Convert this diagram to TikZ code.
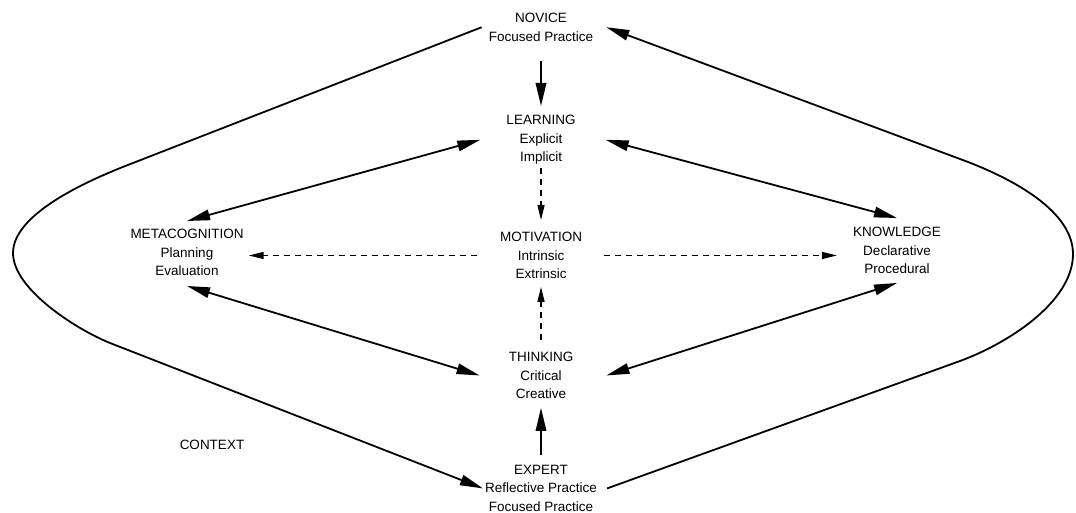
\documentclass[tikz,border=0pt]{standalone}
\usepackage{fontspec}
\setmainfont{Liberation Sans}
\usetikzlibrary{arrows.meta}
\tikzset{
  lbl/.style={align=center, inner sep=0pt, anchor=north,
              font=\fontsize{13.5}{18.5}\selectfont},
  arr/.style={line width=1.8pt, -{Triangle[length=23pt,width=10.5pt]}},
  both/.style={line width=1.8pt, {Triangle[length=23pt,width=10.5pt]}-{Triangle[length=23pt,width=10.5pt]}},
  darr/.style={line width=1.3pt, dash pattern=on 6pt off 5pt,
               -{Triangle[length=15pt,width=7pt]}},
}
\begin{document}
\begin{tikzpicture}[x=1pt,y=-1pt]%{{{
\useasboundingbox (0,0) rectangle (1076,513);
%
% Stades
\node[lbl] (novice)     at (541, 13) {NOVICE\\Focused Practice};
\node[lbl] (learning)   at (541,115) {LEARNING\\Explicit\\Implicit};
\node[lbl] (motivation) at (541,232) {MOTIVATION\\Intrinsic\\Extrinsic};
\node[lbl] (meta)       at (187,229) {METACOGNITION\\Planning\\Evaluation};
\node[lbl] (knowledge)  at (897,227) {KNOWLEDGE\\Declarative\\Procedural};
\node[lbl] (thinking)   at (541,352) {THINKING\\Critical\\Creative};
\node[lbl] (expert)     at (541,465) {EXPERT\\Reflective Practice\\Focused Practice};
\node[lbl] (context)    at (212,440) {CONTEXT};
%
% Axe central
\draw [arr]  ([yshift=-20pt]novice.south) -- ([yshift=9pt]learning.north);
\draw [darr] ([yshift=-3pt]learning.south) -- ([yshift=12pt]motivation.north);
\draw [darr] ([yshift=12pt]thinking.north) -- ([yshift=-8pt]motivation.south);
\draw [arr]  ([yshift=10pt]expert.north) -- ([yshift=-9pt]thinking.south);
%
% Motivation vers les cotes
\draw [darr] ([xshift=-23pt]motivation.west) -- ([xshift=5pt]meta.east |- motivation.west);
\draw [darr] ([xshift=22pt]motivation.east) -- ([xshift=-16pt]knowledge.west |- motivation.east);
%
% Liens doubles
\draw [both] ([xshift=-26pt]learning.west) -- ([yshift=8pt]meta.north);
\draw [both] ([xshift=30pt]learning.east) -- ([yshift=9pt]knowledge.north);
\draw [both] ([yshift=-10pt]meta.south) -- ([xshift=-29pt]thinking.west);
\draw [both] ([yshift=-9pt]knowledge.south) -- ([xshift=33pt]thinking.east);
%
% Boucles (contexte)
\draw [arr] ([xshift=-7pt]novice.west) -- (133,163)
      to[out=201,in=90,looseness=0.7] (13,253)
      to[out=-90,in=158,looseness=0.7] (110,343)
      -- ([xshift=-2pt]expert.west);
\draw [arr] ([xshift=10pt]expert.east) -- (960,361)
      to[out=20,in=-90,looseness=0.8] (1073,254)
      to[out=90,in=-20,looseness=0.8] (960,159)
      -- ([xshift=13pt]novice.east);
%
\end{tikzpicture}
\end{document}
